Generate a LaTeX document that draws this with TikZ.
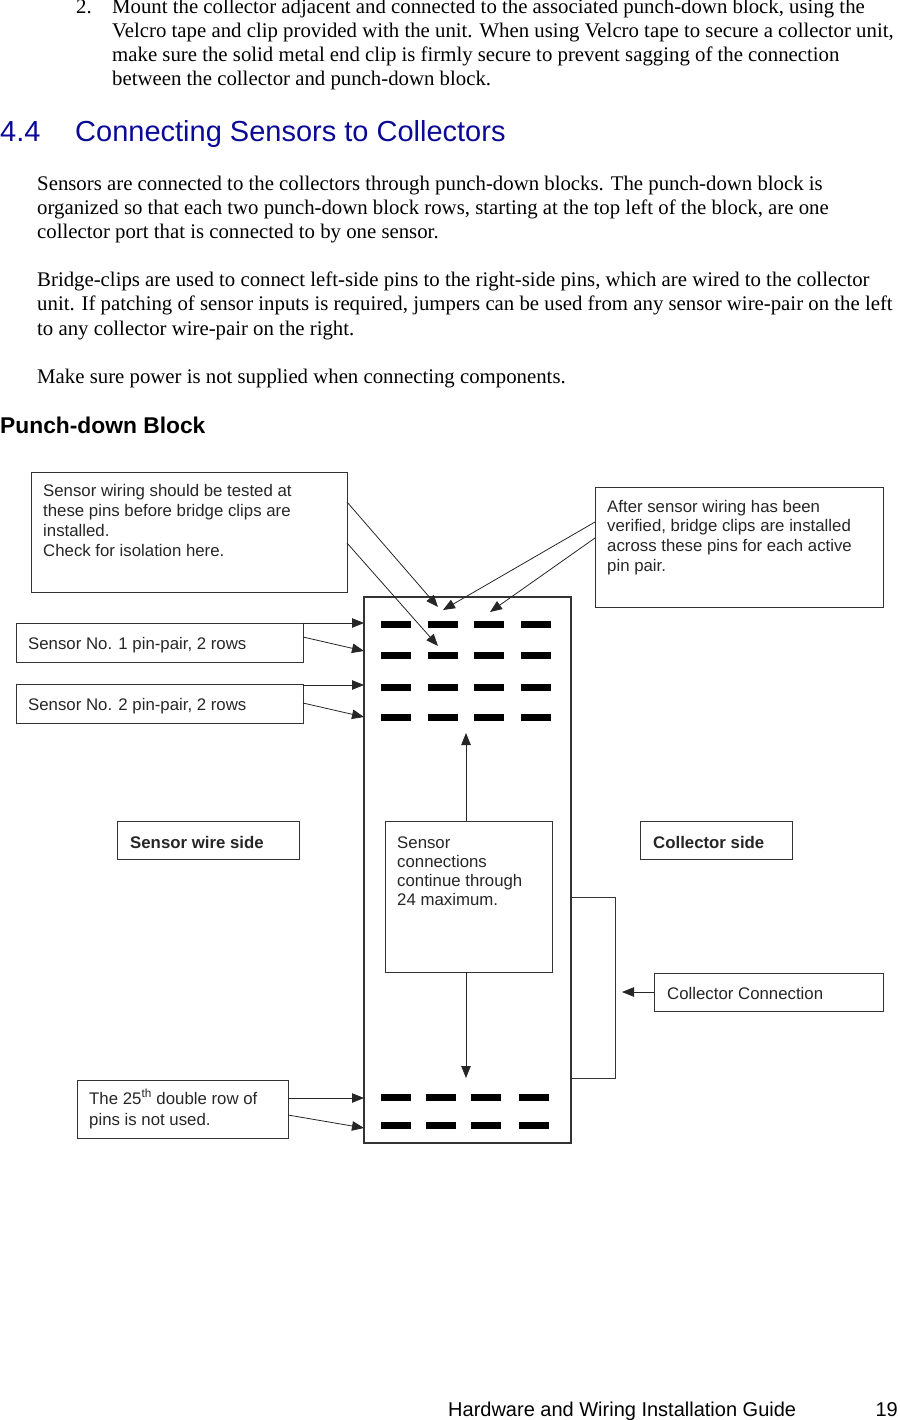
\documentclass[tikz,border=0pt]{standalone}
\usepackage{fontspec}
\setmainfont{Liberation Serif}
\newfontfamily\arialfont{Liberation Sans}
\usetikzlibrary{arrows.meta}
\definecolor{headblue}{RGB}{10,10,150}

\begin{document}
\begin{tikzpicture}[x=1pt,y=-1pt,>={Triangle[length=12pt,width=9.5pt]},
  body/.style={anchor=base west,inner sep=0,font=\fontsize{20.8}{24}\selectfont},
  box/.style={draw=black!80,line width=1pt,anchor=north west,inner sep=0,outer sep=0},
  lbl/.style={anchor=base west,inner sep=0,font=\arialfont\fontsize{16.8}{20}\selectfont,text=black!85},
  pin/.style={fill=black,anchor=north west,minimum width=30,minimum height=7,inner sep=0,outer sep=0},
  wire/.style={->,line width=0.8pt,draw=black!85}]

\useasboundingbox (0,0) rectangle (899,1420);

% page text
\node[body] (num) at (76,14) {2.};
\foreach \t [count=\i] in {{Mount the collector adjacent and connected to the associated punch-down block, using the},
  {Velcro tape and clip provided with the unit. When using Velcro tape to secure a collector unit,},
  {make sure the solid metal end clip is firmly secure to prevent sagging of the connection},
  {between the collector and punch-down block.}}
  \node[body] (item\i) at (112,{-10+24*\i}) {\t};

\node[body,font=\arialfont\fontsize{29}{34}\selectfont,text=headblue] (secnum) at (0,142) {4.4};
\node[body,font=\arialfont\fontsize{29}{34}\selectfont,text=headblue] (sectitle) at (75,142) {Connecting Sensors to Collectors};

\foreach \t [count=\i] in {{Sensors are connected to the collectors through punch-down blocks. The punch-down block is},
  {organized so that each two punch-down block rows, starting at the top left of the block, are one},
  {collector port that is connected to by one sensor.}}
  \node[body] (para\i) at (37,{167+24*\i}) {\t};
\foreach \t [count=\i] in {{Bridge-clips are used to connect left-side pins to the right-side pins, which are wired to the collector},
  {unit. If patching of sensor inputs is required, jumpers can be used from any sensor wire-pair on the left},
  {to any collector wire-pair on the right.}}
  \node[body] (parb\i) at (37,{263+24*\i}) {\t};
\node[body] (parc) at (37,383) {Make sure power is not supplied when connecting components.};

\node[body,font=\arialfont\bfseries\fontsize{22.8}{28}\selectfont] (figtitle) at (0,433) {Punch-down Block};

% block and pins
\node[box,line width=1.3pt,minimum width=207,minimum height=546] (block) at (364,597) {};
\foreach \x [count=\c] in {380.7,428,474,520.7}
  \foreach \y [count=\r] in {620.7,651.7,684,714}
    \node[pin] (p\r\c) at (\x,\y) {};
\foreach \x [count=\c] in {380.7,425.7,471,519}
  \foreach \y [count=\r] in {1094,1122}
    \node[pin] (q\r\c) at (\x,\y) {};

% callout boxes
\node[box,minimum width=316,minimum height=120] (test) at (31,472) {};
\foreach \t [count=\i] in {{Sensor wiring should be tested at},{these pins before bridge clips are},
  {installed.},{Check for isolation here.}}
  \node[lbl] (test\i) at ([shift={(12,{4+20*\i})}]test.north west) {\t};

\node[box,minimum width=288,minimum height=120] (clip) at (595,487) {};
\foreach \t [count=\i] in {{After sensor wiring has been},{verified, bridge clips are installed},
  {across these pins for each active},{pin pair.}}
  \node[lbl] (clip\i) at ([shift={(12,{5.3+19.7*\i})}]clip.north west) {\t};

\node[box,minimum width=287,minimum height=39] (s1) at (16,623) {};
\node[lbl] (s1t) at ([shift={(12,26)}]s1.north west) {Sensor No. 1 pin-pair, 2 rows};
\node[box,minimum width=287,minimum height=39] (s2) at (16,684) {};
\node[lbl] (s2t) at ([shift={(12,26)}]s2.north west) {Sensor No. 2 pin-pair, 2 rows};

\node[box,minimum width=182,minimum height=38] (sws) at (117,821) {};
\node[lbl,font=\arialfont\bfseries\fontsize{16.8}{20}\selectfont] (swst) at ([shift={(13,27)}]sws.north west) {Sensor wire side};
\node[box,minimum width=152,minimum height=38] (cs) at (640,821) {};
\node[lbl,font=\arialfont\bfseries\fontsize{16.8}{20}\selectfont] (cst) at ([shift={(13,27)}]cs.north west) {Collector side};

\node[box,minimum width=167,minimum height=151] (cont) at (385,821) {};
\foreach \t [count=\i] in {{Sensor},{connections},{continue through},{24 maximum.}}
  \node[lbl] (cont\i) at ([shift={(12,{8+19*\i})}]cont.north west) {\t};

\node[box,minimum width=229,minimum height=38] (cc) at (654,973) {};
\node[lbl] (cct) at ([shift={(13,26)}]cc.north west) {Collector Connection};

\node[box,minimum width=211,minimum height=58] (unused) at (77,1080) {};
\node[lbl] (unused1) at ([shift={(12,24)}]unused.north west) {The 25\textsuperscript{th} double row of};
\node[lbl] (unused2) at ([shift={(12,45)}]unused.north west) {pins is not used.};

% arrows
\coordinate (tipA) at (438,607);
\coordinate (tipB) at (438,646);
\coordinate (tipC) at (443,610);
\coordinate (tipD) at (490,612);
\draw[wire] ([shift={(0,30)}]test.north east) -- (tipA);
\draw[wire] ([shift={(0,71)}]test.north east) -- (tipB);
\draw[wire] ([shift={(0,35)}]clip.north west) -- (tipC);
\draw[wire] ([shift={(0,51)}]clip.north west) -- (tipD);

\draw[wire] (s1.north east) -- ([shift={(0,26)}]block.north west);
\draw[wire] ([shift={(0,14)}]s1.north east) -- ([shift={(0,54)}]block.north west);
\draw[wire] ([shift={(0,1)}]s2.north east) -- ([shift={(0,88)}]block.north west);
\draw[wire] ([shift={(0,19)}]s2.north east) -- ([shift={(0,120)}]block.north west);
\draw[wire] ([shift={(0,18)}]unused.north east) -- ([shift={(0,501)}]block.north west);
\draw[wire] ([shift={(0,35)}]unused.north east) -- ([shift={(0,531)}]block.north west);

\draw[wire] ([shift={(-2.5,0)}]cont.north) -- ([shift={(-2.5,-88)}]cont.north);
\draw[wire] ([shift={(-2.5,0)}]cont.south) -- ([shift={(-2.5,106)}]cont.south);

\draw[line width=1pt,draw=black!80] ([shift={(0,300)}]block.north east) -- ++(44,0) -- ++(0,181) -- ++(-44,0);
\draw[wire] (cc.west) -- ++(-32,0);

% footer
\node[body,font=\arialfont\fontsize{20}{24}\selectfont] (foot) at (448,1416) {Hardware and Wiring Installation Guide};
\node[body,anchor=base east,font=\arialfont\fontsize{20}{24}\selectfont] (page) at (898,1416) {19};

\end{tikzpicture}
\end{document}
